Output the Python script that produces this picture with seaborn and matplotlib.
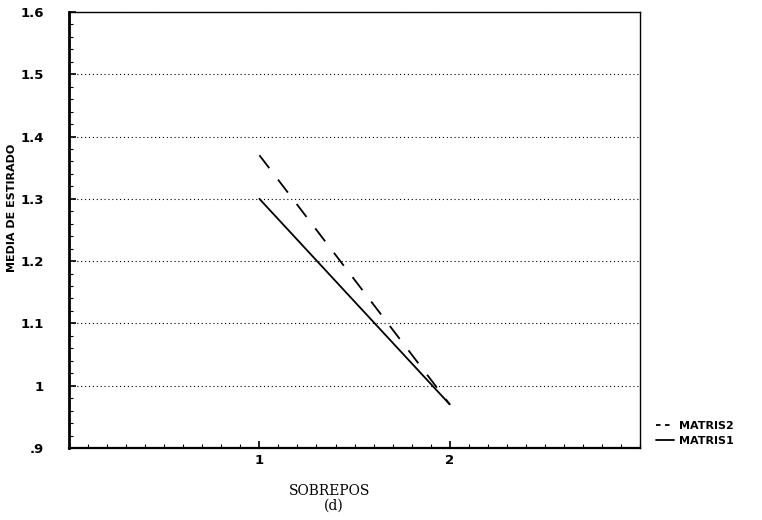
import matplotlib
matplotlib.use("Agg")
import matplotlib.pyplot as plt
from matplotlib.ticker import MultipleLocator, FuncFormatter
import seaborn as sns
import pandas as pd

# Mean values per overlap level for each matrix
sobrepos = [1, 2]
matris1 = [1.30, 0.97]
matris2 = [1.37, 0.97]
series_names = ["MATRIS2", "MATRIS1"]
y_ticks = [0.9, 1.0, 1.1, 1.2, 1.3, 1.4, 1.5, 1.6]
x_ticks = [1, 2]

df = pd.DataFrame({
    "SOBREPOS": sobrepos * 2,
    "valor": matris2 + matris1,
    "serie": [series_names[0]] * len(sobrepos) + [series_names[1]] * len(sobrepos),
})

sns.set_theme(style="white")
plt.rcParams["font.family"] = ["DejaVu Sans"]
plt.rcParams["text.color"] = "black"

fig = plt.figure(figsize=(7.62, 5.2), dpi=100)
ax = fig.add_axes([0.0906, 0.1385, 0.7494, 0.8385])

sns.lineplot(
    data=df, x="SOBREPOS", y="valor", style="serie",
    style_order=series_names,
    dashes={"MATRIS2": (9, 8), "MATRIS1": ""},
    color="black", linewidth=1.3, ax=ax, legend=True,
)

ax.set_xlim(0, 3)
ax.set_ylim(0.9, 1.6)
ax.set_xticks(x_ticks)
ax.set_yticks(y_ticks)
ax.xaxis.set_minor_locator(MultipleLocator(0.1))
ax.yaxis.set_minor_locator(MultipleLocator(0.02))


def fmt(v, pos):
    s = f"{v:.1f}"
    if s.endswith(".0"):
        s = s[:-2]
    if s.startswith("0"):
        s = s[1:]
    return s


ax.yaxis.set_major_formatter(FuncFormatter(fmt))
ax.xaxis.set_major_formatter(FuncFormatter(lambda v, p: f"{int(v)}"))

ax.grid(axis="y", which="major", linestyle=(0, (1, 2.5)), color="black", linewidth=0.8)
ax.grid(axis="x", visible=False)

for side in ["left", "bottom", "right", "top"]:
    ax.spines[side].set_visible(True)
    ax.spines[side].set_color("black")
ax.spines["left"].set_linewidth(2.0)
ax.spines["bottom"].set_linewidth(1.6)
ax.spines["right"].set_linewidth(1.0)
ax.spines["top"].set_linewidth(1.0)

ax.tick_params(axis="both", which="major", direction="in", length=5, width=1.2,
               colors="black", labelcolor="black", labelsize=9.5, left=True, bottom=True)
ax.tick_params(axis="both", which="minor", direction="in", length=3, width=0.8,
               colors="black", left=True, bottom=True)
ax.tick_params(axis="y", pad=18)
ax.tick_params(axis="x", pad=4)
for lab in ax.get_xticklabels() + ax.get_yticklabels():
    lab.set_fontweight("bold")

ax.set_xlabel("")
ax.set_ylabel("MEDIA DE ESTIRADO", fontsize=8, fontweight="bold", color="black")
ax.yaxis.set_label_coords(-0.091, 0.55)

fig.text(0.433, 0.056, "SOBREPOS", ha="center", va="center",
         family="DejaVu Serif", fontsize=10, color="black")
fig.text(0.438, 0.027, "(d)", ha="center", va="center",
         family="DejaVu Serif", fontsize=10, color="black")

leg = ax.legend(title=None, loc="lower left", bbox_to_anchor=(1.02, -0.005),
                frameon=False, handlelength=1.6, fontsize=8, borderaxespad=0,
                labelspacing=0.45, handletextpad=0.5)
for t in leg.get_texts():
    t.set_fontweight("bold")
    t.set_color("black")
leg.get_lines()[0].set_dashes((2.5, 2.5))

fig.savefig("out.png", dpi=100)
